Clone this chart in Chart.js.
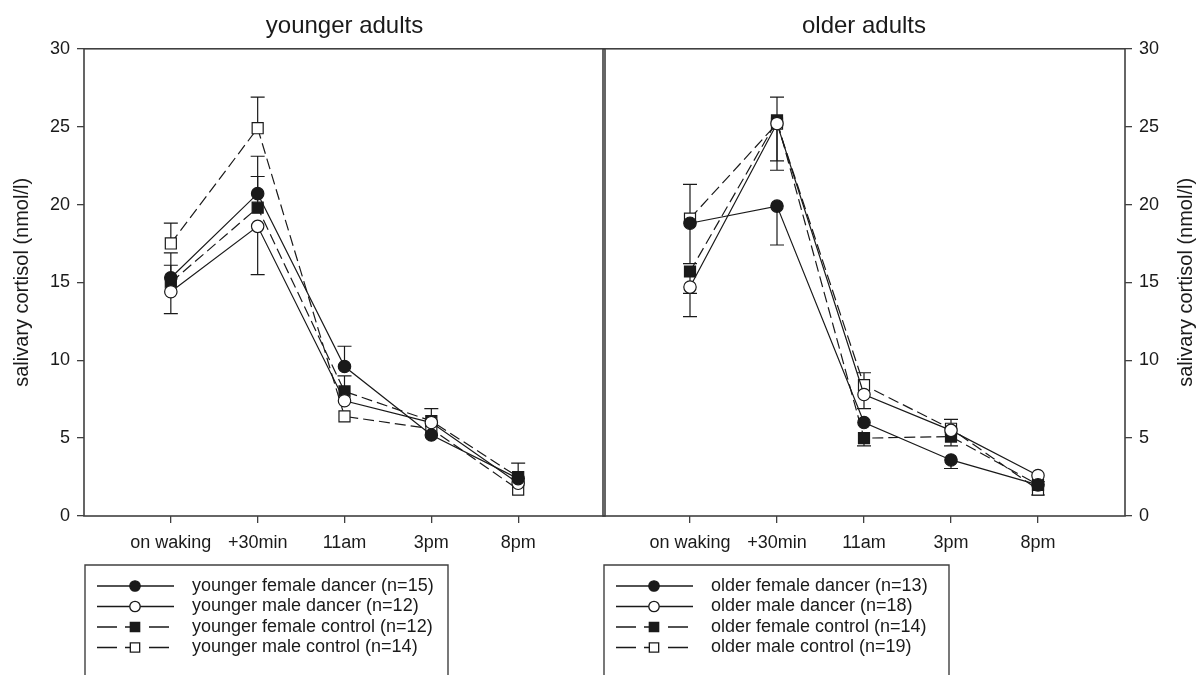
<!DOCTYPE html>
<html>
<head>
<meta charset="utf-8">
<title>Salivary cortisol over the day</title>
<script src="https://cdn.jsdelivr.net/npm/chart.js@4.4.1/dist/chart.umd.min.js"></script>
<style>
  html, body { margin: 0; padding: 0; background: #fff; }
  #wrap { position: relative; width: 1199px; height: 675px; overflow: hidden; }
  #wrap canvas { position: absolute; top: 0; }
  #youngChart { left: 0; }
  #oldChart { left: 600px; }
</style>
</head>
<body>
<div id="wrap">
  <canvas id="youngChart" width="607" height="675"></canvas>
  <canvas id="oldChart" width="599" height="675"></canvas>
</div>
<script>
// sampling times (x axis) and y axis range
const timePoints = ['on waking', '+30min', '11am', '3pm', '8pm'];
const yMin = 0, yMax = 30, yStep = 5;
const yTitle = 'salivary cortisol (nmol/l)';

// younger adults, mean cortisol per time point
const youngLabels = [
  'younger female dancer (n=15)',
  'younger male dancer (n=12)',
  'younger female control (n=12)',
  'younger male control (n=14)'
];
const youngFemaleDancer  = [15.3, 20.7, 9.6, 5.2, 2.4];
const youngMaleDancer    = [14.4, 18.6, 7.4, 6.0, 2.1];
const youngFemaleControl = [15.0, 19.8, 8.0, 6.1, 2.5];
const youngMaleControl   = [17.5, 24.9, 6.4, 5.6, 1.7];

// younger adults, error bars (upward / downward), null = not drawn
const youngFemaleDancerUp    = [1.6, 2.4, 1.3, null, null];
const youngFemaleDancerDown  = [null, null, null, null, null];
const youngMaleDancerUp      = [null, null, null, null, null];
const youngMaleDancerDown    = [1.4, 3.1, null, null, null];
const youngFemaleControlUp   = [1.1, 2.0, 1.0, 0.8, 0.9];
const youngFemaleControlDown = [null, null, null, null, null];
const youngMaleControlUp     = [1.3, 2.0, null, null, null];
const youngMaleControlDown   = [null, null, null, null, null];

// older adults, mean cortisol per time point
const oldLabels = [
  'older female dancer (n=13)',
  'older male dancer (n=18)',
  'older female control (n=14)',
  'older male control (n=19)'
];
const oldFemaleDancer  = [18.8, 19.9, 6.0, 3.6, 2.0];
const oldMaleDancer    = [14.7, 25.2, 7.8, 5.5, 2.6];
const oldFemaleControl = [15.7, 25.4, 5.0, 5.1, 2.0];
const oldMaleControl   = [19.1, 25.2, 8.4, 5.6, 1.7];

// older adults, error bars
const oldFemaleDancerUp    = [null, null, null, null, null];
const oldFemaleDancerDown  = [2.6, 2.5, null, 0.55, null];
const oldMaleDancerUp      = [null, null, null, null, null];
const oldMaleDancerDown    = [1.9, 3.0, 0.9, null, null];
const oldFemaleControlUp   = [null, null, null, null, 0.2];
const oldFemaleControlDown = [1.4, 2.6, 0.5, 0.6, null];
const oldMaleControlUp     = [2.2, 1.7, 0.8, 0.6, null];
const oldMaleControlDown   = [null, null, null, null, 0.35];

const INK = '#1a1a1a';
const FRAME = '#404040';
const FONT = '"Liberation Sans", Arial, sans-serif';

Chart.defaults.font.family = FONT;
Chart.defaults.color = INK;

// filled circle, open circle, filled square, open square
const seriesLook = [
  { pointStyle: 'circle', fill: INK,    dash: [],      radius: 6.2 },
  { pointStyle: 'circle', fill: '#fff', dash: [],      radius: 6.2 },
  { pointStyle: 'rect',   fill: INK,    dash: [11, 5], radius: 7.8 },
  { pointStyle: 'rect',   fill: '#fff', dash: [11, 5], radius: 7.8 }
];

function makeDatasets(labels, series, ups, downs) {
  return series.map((vals, i) => ({
    label: labels[i],
    data: vals.map((v, j) => ({ x: j + 1, y: v })),
    errUp: ups[i],
    errDown: downs[i],
    borderColor: INK,
    borderWidth: 1.2,
    borderDash: seriesLook[i].dash,
    pointStyle: seriesLook[i].pointStyle,
    pointRadius: seriesLook[i].radius,
    pointBackgroundColor: seriesLook[i].fill,
    pointBorderColor: INK,
    pointBorderWidth: 1.2,
    tension: 0,
    fill: false
  }));
}

// box round the plotting area
const frame = {
  id: 'frame',
  afterDatasetsDraw(chart) {
    const { ctx, chartArea: a } = chart;
    ctx.save();
    ctx.strokeStyle = FRAME;
    ctx.lineWidth = 1.6;
    ctx.strokeRect(a.left, a.top, a.right - a.left, a.bottom - a.top);
    ctx.restore();
  }
};

// one-sided SEM bars with caps, drawn under the markers
const errorBars = {
  id: 'errorBars',
  beforeDatasetsDraw(chart) {
    const { ctx, scales: { x, y } } = chart;
    ctx.save();
    ctx.strokeStyle = INK;
    ctx.lineWidth = 1.2;
    chart.data.datasets.forEach(ds => {
      ds.data.forEach((pt, j) => {
        const px = x.getPixelForValue(pt.x);
        const py = y.getPixelForValue(pt.y);
        [[ds.errUp[j], 1], [ds.errDown[j], -1]].forEach(([e, sign]) => {
          if (!e) return;
          const ey = y.getPixelForValue(pt.y + sign * e);
          ctx.beginPath();
          ctx.moveTo(px, py);
          ctx.lineTo(px, ey);
          ctx.moveTo(px - 7, ey);
          ctx.lineTo(px + 7, ey);
          ctx.stroke();
        });
      });
    });
    ctx.restore();
  }
};

// key box under each panel: line sample, marker, label
const seriesKey = {
  id: 'seriesKey',
  afterDraw(chart, args, opts) {
    const { ctx } = chart;
    const { left, top, width, firstRow, rowGap } = opts;
    ctx.save();
    ctx.strokeStyle = FRAME;
    ctx.lineWidth = 1.4;
    ctx.beginPath();
    ctx.moveTo(left, chart.height + 5);
    ctx.lineTo(left, top);
    ctx.lineTo(left + width, top);
    ctx.lineTo(left + width, chart.height + 5);
    ctx.stroke();

    chart.data.datasets.forEach((ds, i) => {
      const yy = firstRow + i * rowGap;
      const x0 = left + 12, x1 = left + 89, mid = left + 50;
      ctx.strokeStyle = INK;
      ctx.lineWidth = 1.3;
      ctx.beginPath();
      if (ds.borderDash.length) {
        ctx.moveTo(x0, yy); ctx.lineTo(x0 + 20, yy);
        ctx.moveTo(x0 + 28, yy); ctx.lineTo(mid, yy);
        ctx.moveTo(mid + 14, yy); ctx.lineTo(x1 - 5, yy);
      } else {
        ctx.moveTo(x0, yy); ctx.lineTo(x1, yy);
      }
      ctx.stroke();
      ctx.fillStyle = ds.pointBackgroundColor;
      Chart.helpers.drawPoint(ctx, {
        pointStyle: ds.pointStyle,
        radius: ds.pointStyle === 'rect' ? 6.6 : 5.2,
        rotation: 0,
        borderWidth: 1.2
      }, mid, yy);

      ctx.fillStyle = INK;
      ctx.font = '18px ' + FONT;
      ctx.textAlign = 'left';
      ctx.textBaseline = 'middle';
      ctx.fillText(ds.label, left + 107, yy);
    });
    ctx.restore();
  }
};

// axis title for the right-hand axis, reading bottom to top
const sideTitle = {
  id: 'sideTitle',
  afterDraw(chart, args, opts) {
    if (!opts.text) return;
    const { ctx, chartArea: a } = chart;
    ctx.save();
    ctx.translate(opts.x, (a.top + a.bottom) / 2);
    ctx.rotate(-Math.PI / 2);
    ctx.fillStyle = INK;
    ctx.font = '20px ' + FONT;
    ctx.textAlign = 'center';
    ctx.textBaseline = 'middle';
    ctx.fillText(opts.text, 0, 0);
    ctx.restore();
  }
};

function panelOptions(cfg) {
  return {
    responsive: false,
    animation: false,
    // no extra room for markers at the ends; the plot box is placed exactly
    layout: { padding: cfg.padding, autoPadding: false },
    plugins: {
      legend: { display: false },
      tooltip: { enabled: false },
      title: {
        display: true,
        text: cfg.title,
        fullSize: false,
        color: INK,
        font: { size: 24, weight: 'normal' },
        padding: { top: 12, bottom: 8 }
      },
      seriesKey: cfg.key,
      sideTitle: cfg.sideTitle
    },
    scales: {
      x: {
        type: 'linear',
        min: 0,
        max: timePoints.length + 1,
        afterBuildTicks: s => { s.ticks = timePoints.map((_, i) => ({ value: i + 1 })); },
        afterFit: s => { s.height = 159; },
        border: { display: false },
        grid: { drawOnChartArea: false, drawTicks: true, tickLength: 7, color: FRAME, lineWidth: 1.3 },
        ticks: {
          callback: v => timePoints[v - 1] ?? '',
          color: INK,
          font: { size: 18 },
          padding: 9,
          maxRotation: 0,
          autoSkip: false
        }
      },
      y: {
        position: cfg.yPos,
        min: yMin,
        max: yMax,
        afterFit: s => { s.width = cfg.yWidth; },
        border: { display: false },
        grid: { drawOnChartArea: false, drawTicks: true, tickLength: 7, color: FRAME, lineWidth: 1.3 },
        ticks: { stepSize: yStep, color: INK, font: { size: 18 }, padding: 7 },
        title: {
          display: cfg.yPos === 'left',
          text: yTitle,
          color: INK,
          font: { size: 20 },
          padding: { top: 10, bottom: 0 }
        }
      }
    }
  };
}

const plugins = [frame, errorBars, seriesKey, sideTitle];

new Chart(document.getElementById('youngChart'), {
  type: 'line',
  data: {
    datasets: makeDatasets(
      youngLabels,
      [youngFemaleDancer, youngMaleDancer, youngFemaleControl, youngMaleControl],
      [youngFemaleDancerUp, youngMaleDancerUp, youngFemaleControlUp, youngMaleControlUp],
      [youngFemaleDancerDown, youngMaleDancerDown, youngFemaleControlDown, youngMaleControlDown]
    )
  },
  options: panelOptions({
    title: 'younger adults',
    padding: { left: 0, right: 2, top: 0, bottom: 0 },
    yPos: 'left',
    yWidth: 84,
    key: { left: 85, top: 565, width: 363, firstRow: 586, rowGap: 20.5 },
    sideTitle: { text: '' }
  }),
  plugins
});

new Chart(document.getElementById('oldChart'), {
  type: 'line',
  data: {
    datasets: makeDatasets(
      oldLabels,
      [oldFemaleDancer, oldMaleDancer, oldFemaleControl, oldMaleControl],
      [oldFemaleDancerUp, oldMaleDancerUp, oldFemaleControlUp, oldMaleControlUp],
      [oldFemaleDancerDown, oldMaleDancerDown, oldFemaleControlDown, oldMaleControlDown]
    )
  },
  options: panelOptions({
    title: 'older adults',
    padding: { left: 3, right: 0, top: 0, bottom: 0 },
    yPos: 'right',
    yWidth: 74,
    key: { left: 4, top: 565, width: 345, firstRow: 586, rowGap: 20.5 },
    sideTitle: { text: yTitle, x: 586 }
  }),
  plugins
});
</script>
</body>
</html>
